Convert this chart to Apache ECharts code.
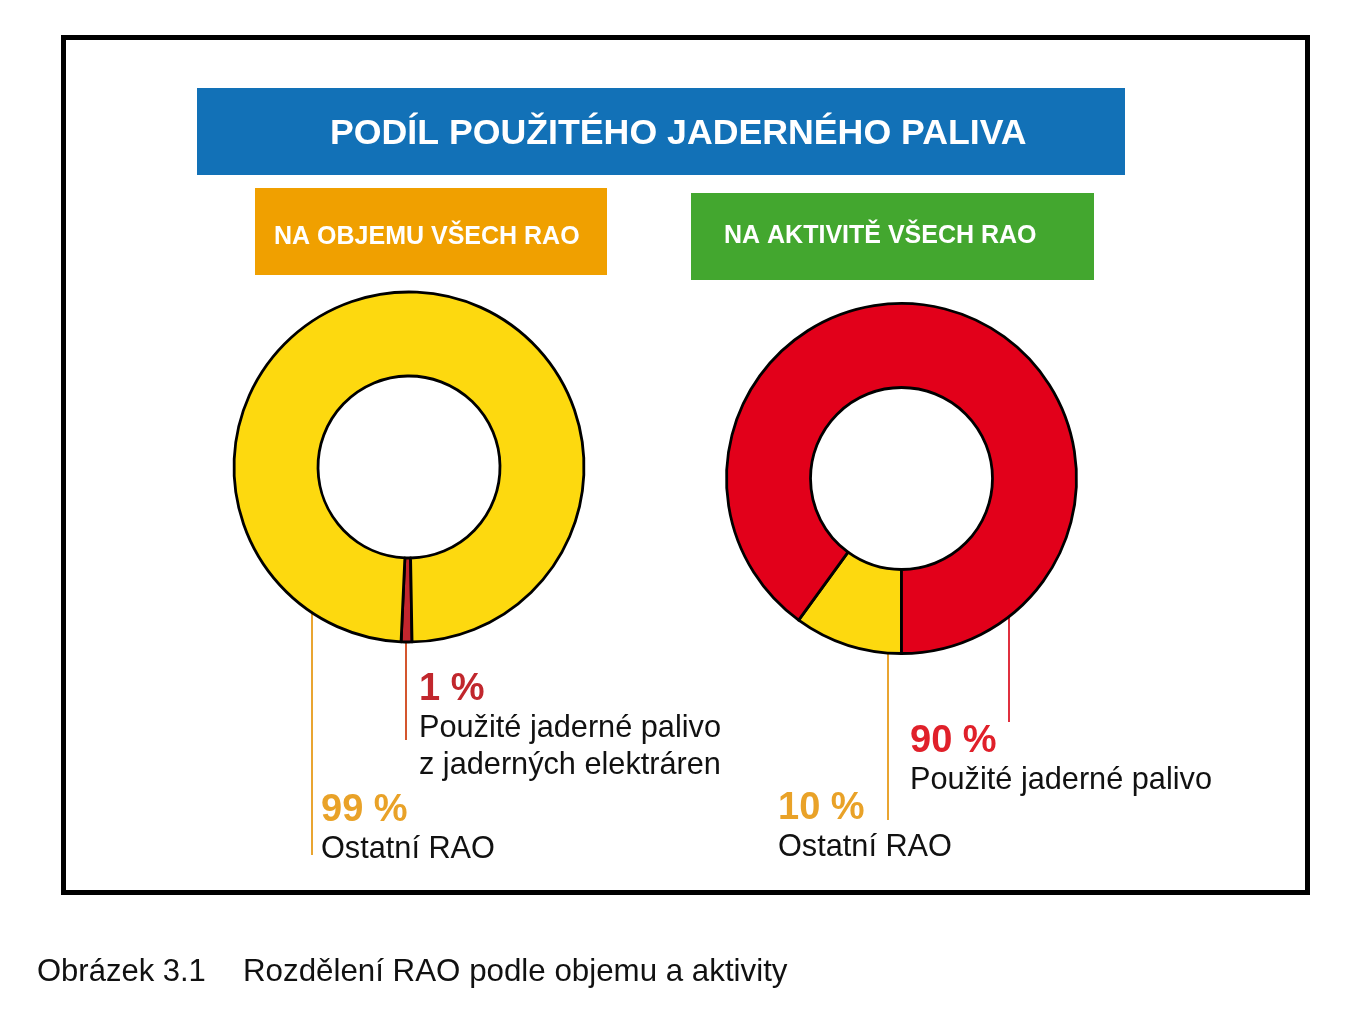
<!DOCTYPE html>
<html>
<head>
<meta charset="utf-8">
<script src="https://cdn.jsdelivr.net/npm/echarts@6/dist/echarts.min.js"></script>
<style>
html,body{margin:0;padding:0;background:#fff;}
#chart{width:1360px;height:1024px;}
</style>
</head>
<body>
<div id="chart"></div>
<script>
// ---- data ----
const mainTitle = 'PODÍL POUŽITÉHO JADERNÉHO PALIVA';
const leftTitle = 'NA OBJEMU VŠECH RAO';
const rightTitle = 'NA AKTIVITĚ VŠECH RAO';
const captionNum = 'Obrázek 3.1';
const captionText = 'Rozdělení RAO podle objemu a aktivity';

const leftNames = ['Použité jaderné palivo\nz jaderných elektráren', 'Ostatní RAO'];
const leftValues = [1, 99];
const rightNames = ['Ostatní RAO', 'Použité jaderné palivo'];
const rightValues = [10, 90];

// ---- styles / layout ----
const YELLOW = '#fdd90f';
const FONT = 'Liberation Sans';
const leftColors = ['#c3262e', YELLOW];
const rightColors = [YELLOW, '#e2001a'];
const leftPctRich = ['pRed', 'pOrange'];
const rightPctRich = ['pOrange', 'pRed2'];
const leftLineColors = ['#d4562e', '#e9a531'];
const rightLineColors = ['#e9a531', '#e0303f'];
// label placement: [labelX, labelTop, lineX, lineY1, lineY2]
const leftLabelPos = [[419, 670, 406, 620, 740], [321, 791, 312, 575, 855]];
const rightLabelPos = [[778, 789, 888, 588, 820], [910, 722, 1009, 617, 722]];

const rich = {
  pRed: {fontFamily: FONT, fontSize: 38, fontWeight: 'bold', color: '#c1272d', lineHeight: 40},
  pRed2: {fontFamily: FONT, fontSize: 38, fontWeight: 'bold', color: '#e0202a', lineHeight: 40},
  pOrange: {fontFamily: FONT, fontSize: 38, fontWeight: 'bold', color: '#e9a228', lineHeight: 40},
  nm: {fontFamily: FONT, fontSize: 30.7, color: '#111', lineHeight: 37}
};

function makeSeries(names, values, colors, pctRich, lineColors, pos, center, startAngle) {
  return {
    type: 'pie',
    center: center,
    radius: [91, 175],
    startAngle: startAngle,
    clockwise: true,
    avoidLabelOverlap: false,
    silent: true,
    animation: false,
    itemStyle: {borderColor: '#000', borderWidth: 2.8},
    label: {
      show: true,
      position: 'outside',
      fontFamily: FONT,
      rich: rich,
      formatter: function (p) {
        return '{' + pctRich[p.dataIndex] + '|' + p.value + ' %}\n{nm|' + p.name + '}';
      }
    },
    labelLine: {show: true, length: 10, length2: 10},
    labelLayout: function (p) {
      const q = pos[p.dataIndex];
      return {
        x: q[0], y: q[1], align: 'left', verticalAlign: 'top',
        labelLinePoints: [[q[2], q[3]], [q[2], (q[3] + q[4]) / 2], [q[2], q[4]]]
      };
    },
    data: names.map(function (n, i) {
      return {
        name: n, value: values[i],
        itemStyle: {color: colors[i]},
        labelLine: {lineStyle: {color: lineColors[i], width: 2}}
      };
    })
  };
}

function txt(x, y, s, size, bold, color) {
  return {type: 'text', x: x, y: y, style: {text: s, fill: color, fontFamily: FONT, fontSize: size, fontWeight: bold ? 'bold' : 'normal', verticalAlign: 'middle'}};
}

const chart = echarts.init(document.getElementById('chart'), null, {renderer: 'canvas'});
chart.setOption({
  backgroundColor: '#fff',
  animation: false,
  series: [
    makeSeries(leftNames, leftValues, leftColors, leftPctRich, leftLineColors, leftLabelPos, [409, 467], 271),
    makeSeries(rightNames, rightValues, rightColors, rightPctRich, rightLineColors, rightLabelPos, [901.5, 478.5], 270)
  ],
  graphic: [
    {type: 'rect', shape: {x: 63.5, y: 37.5, width: 1244, height: 855}, style: {fill: 'none', stroke: '#000', lineWidth: 5}, z: -1},
    {type: 'rect', shape: {x: 197, y: 88, width: 928, height: 87}, style: {fill: '#1271b7'}},
    txt(330, 134, mainTitle, 35.7, true, '#fff'),
    {type: 'rect', shape: {x: 255, y: 188, width: 352, height: 87}, style: {fill: '#f0a000'}},
    txt(274, 237, leftTitle, 25, true, '#fff'),
    {type: 'rect', shape: {x: 691, y: 193, width: 403, height: 87}, style: {fill: '#43a72f'}},
    txt(724, 236, rightTitle, 25, true, '#fff'),
    txt(37, 972, captionNum, 31, false, '#111'),
    txt(243, 972, captionText, 31.3, false, '#111')
  ]
});
</script>
</body>
</html>
